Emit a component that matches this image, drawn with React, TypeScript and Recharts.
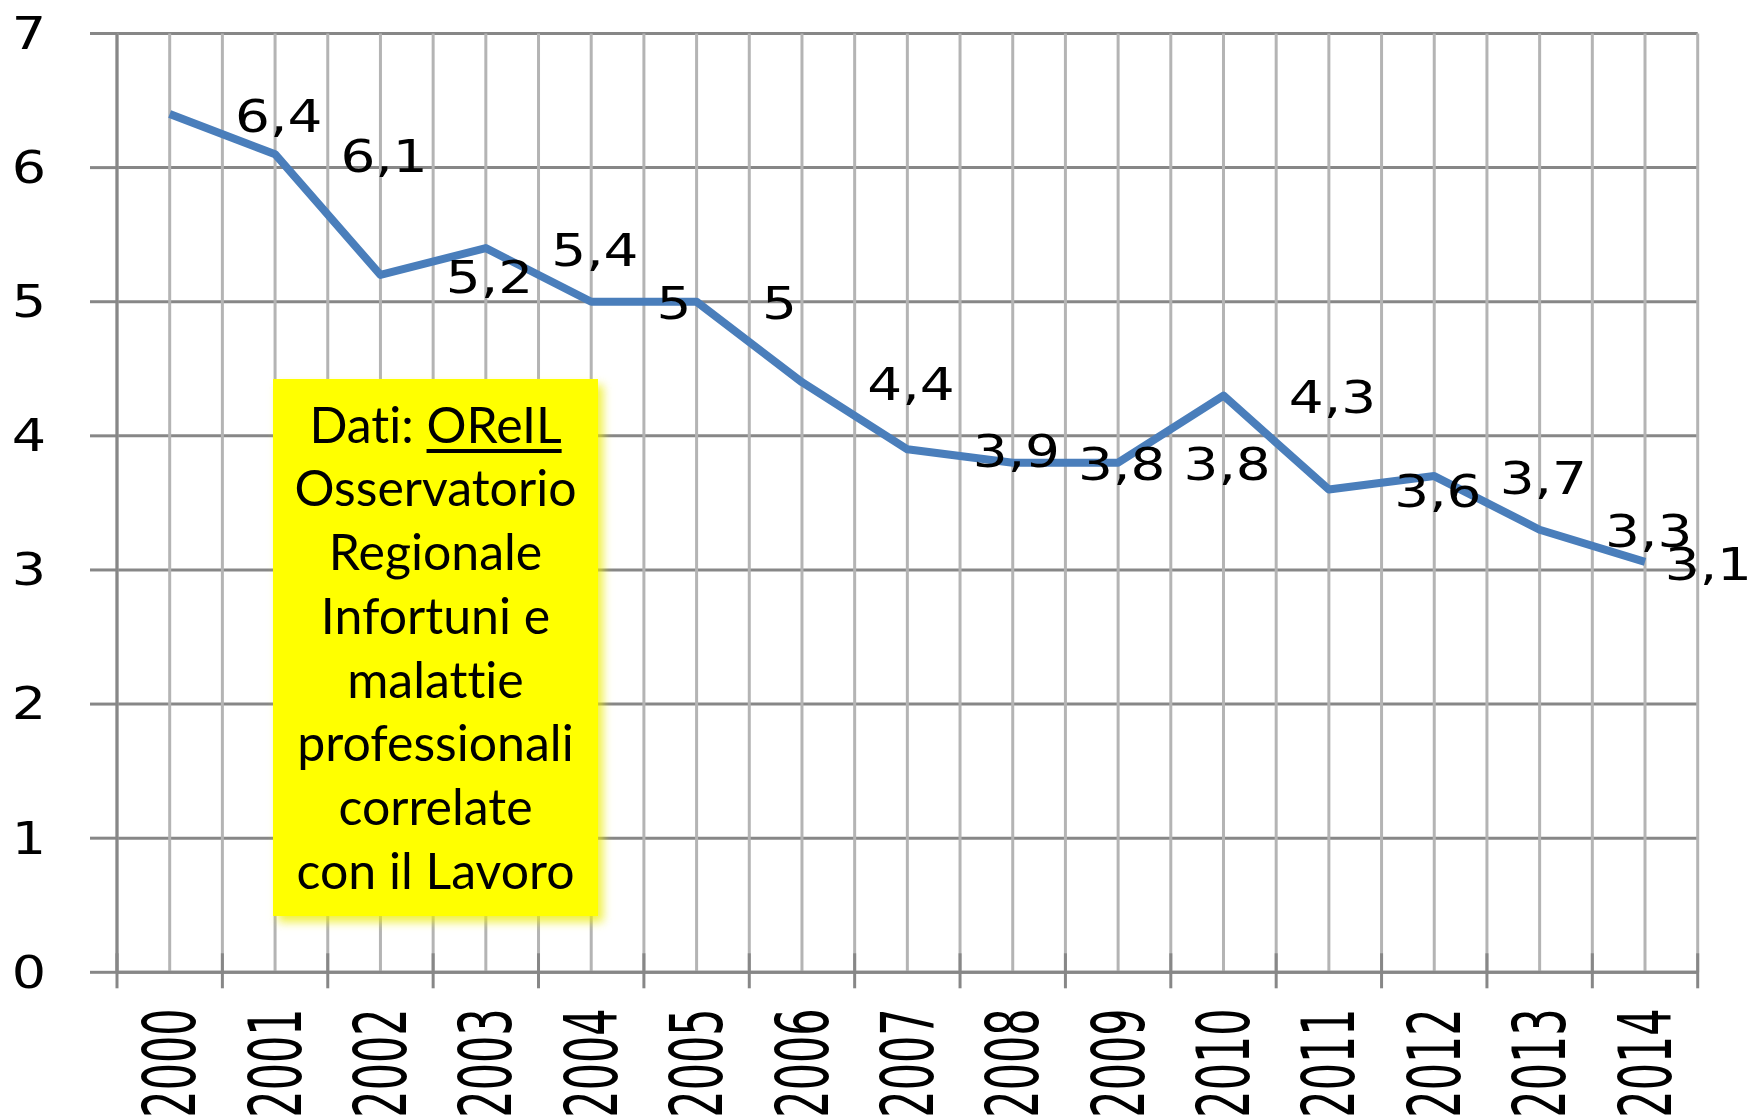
import React from 'react';
import { LineChart, Line, XAxis, YAxis, CartesianGrid, LabelList } from 'recharts';

const years = ['2000', '2001', '2002', '2003', '2004', '2005', '2006', '2007', '2008', '2009', '2010', '2011', '2012', '2013', '2014'];
const values = [6.4, 6.1, 5.2, 5.4, 5.0, 5.0, 4.4, 3.9, 3.8, 3.8, 4.3, 3.6, 3.7, 3.3, 3.06];
const yTicks = [0, 1, 2, 3, 4, 5, 6, 7];
const noteTitle = 'Dati: ';
const noteLink = 'OReIL';
const noteLines = ['Osservatorio', 'Regionale', 'Infortuni e', 'malattie', 'professionali', 'correlate', 'con il Lavoro'];

const data = years.map((year, i) => ({ year, value: values[i] }));

const W = 1752;
const H = 1118;
const M = { top: 33.5, right: 54.3, bottom: 0, left: 0 };
const Y_W = 117;
const X_H = 145.7;
const PLOT_W = W - M.left - M.right - Y_W;
const STEP = PLOT_W / years.length;

const FONT = 'DejaVu Sans';
const DARK = '#878787';
const LIGHT = '#b4b4b4';

const fmt = (v: number) => String(Math.round(v * 10) / 10).replace('.', ',');

const DataLabel = (props: any) => {
  const vb = props.viewBox || {};
  const x = vb.x ?? props.x;
  const y = vb.y ?? props.y;
  const text = fmt(Number(props.value));
  const fs = 45;
  const sx = 1.22;
  const width = [...text].reduce((s, c) => s + (c === ',' ? 0.318 : 0.636), 0) * fs * sx;
  const left = Math.min(x + STEP - 40, W - width);
  return (
    <text
      transform={`translate(${left},${y + 2}) scale(${sx},1)`}
      textAnchor="start"
      dominantBaseline="central"
      fontFamily={FONT}
      fontSize={fs}
      fill="#000"
    >
      {text}
    </text>
  );
};

const XTick = (props: any) => {
  const { x, y, payload, index } = props;
  const half = STEP / 2;
  return (
    <g>
      <line x1={x - half} x2={x - half} y1={y - 19} y2={y + 16} stroke={DARK} strokeWidth={3} />
      {index === years.length - 1 && (
        <line x1={x + half} x2={x + half} y1={y - 19} y2={y + 16} stroke={DARK} strokeWidth={3} />
      )}
      <text
        transform={`translate(${x},${y + 36}) rotate(-90) scale(1,1.7)`}
        textAnchor="end"
        dominantBaseline="central"
        fontFamily={FONT}
        fontSize={43}
        fill="#000"
      >
        {payload.value}
      </text>
    </g>
  );
};

const YTick = (props: any) => {
  const { x, y, payload } = props;
  return (
    <text
      transform={`translate(${x},${y}) scale(1.2,1)`}
      textAnchor="end"
      dominantBaseline="central"
      fontFamily={FONT}
      fontSize={45}
      fill="#000"
    >
      {payload.value}
    </text>
  );
};

const verticalGen = ({ offset }: any) => {
  const step = offset.width / years.length;
  const out: number[] = [];
  for (let k = 0; k <= years.length * 2; k++) out.push(offset.left + (k * step) / 2);
  return out;
};

export default function App() {
  return (
    <div style={{ position: 'absolute', left: 0, top: 0, width: W, height: H, background: '#fff' }}>
      <LineChart width={W} height={H} data={data} margin={M}>
        <CartesianGrid horizontal={true} vertical={false} stroke={DARK} strokeWidth={3} />
        <CartesianGrid horizontal={false} vertical={true} stroke={LIGHT} strokeWidth={3} verticalCoordinatesGenerator={verticalGen} />
        <XAxis
          dataKey="year"
          type="category"
          scale="band"
          height={X_H}
          tickSize={0}
          tickMargin={0}
          tickLine={false}
          interval={0}
          axisLine={{ stroke: DARK, strokeWidth: 3 }}
          tick={<XTick />}
        />
        <YAxis
          type="number"
          domain={[0, 7]}
          ticks={yTicks}
          width={Y_W}
          tickSize={27}
          tickMargin={44}
          interval={0}
          tickLine={{ stroke: DARK, strokeWidth: 3 }}
          axisLine={{ stroke: DARK, strokeWidth: 3 }}
          tick={<YTick />}
        />
        <Line
          type="linear"
          dataKey="value"
          stroke="#4A7EBB"
          strokeWidth={8}
          strokeLinejoin="round"
          strokeLinecap="butt"
          dot={false}
          activeDot={false}
          isAnimationActive={false}
        >
          <LabelList dataKey="value" content={<DataLabel />} />
        </Line>
      </LineChart>
      <div
        style={{
          position: 'absolute',
          left: 273,
          top: 379,
          width: 325,
          height: 537,
          boxSizing: 'border-box',
          paddingTop: 13.5,
          background: '#ffff00',
          boxShadow: '5px 6px 9px rgba(235,235,0,0.75)',
          textAlign: 'center',
          fontFamily: 'Lato',
          fontSize: 50,
          lineHeight: '63.8px',
          fontVariantLigatures: 'none',
          color: '#000',
        }}
      >
        <div style={{ whiteSpace: 'nowrap' }}>
          {noteTitle}
          <span style={{ textDecoration: 'underline', textDecorationThickness: 4, textUnderlineOffset: 6 }}>{noteLink}</span>
        </div>
        {noteLines.map((l) => (
          <div key={l} style={{ whiteSpace: 'nowrap' }}>{l}</div>
        ))}
      </div>
    </div>
  );
}
